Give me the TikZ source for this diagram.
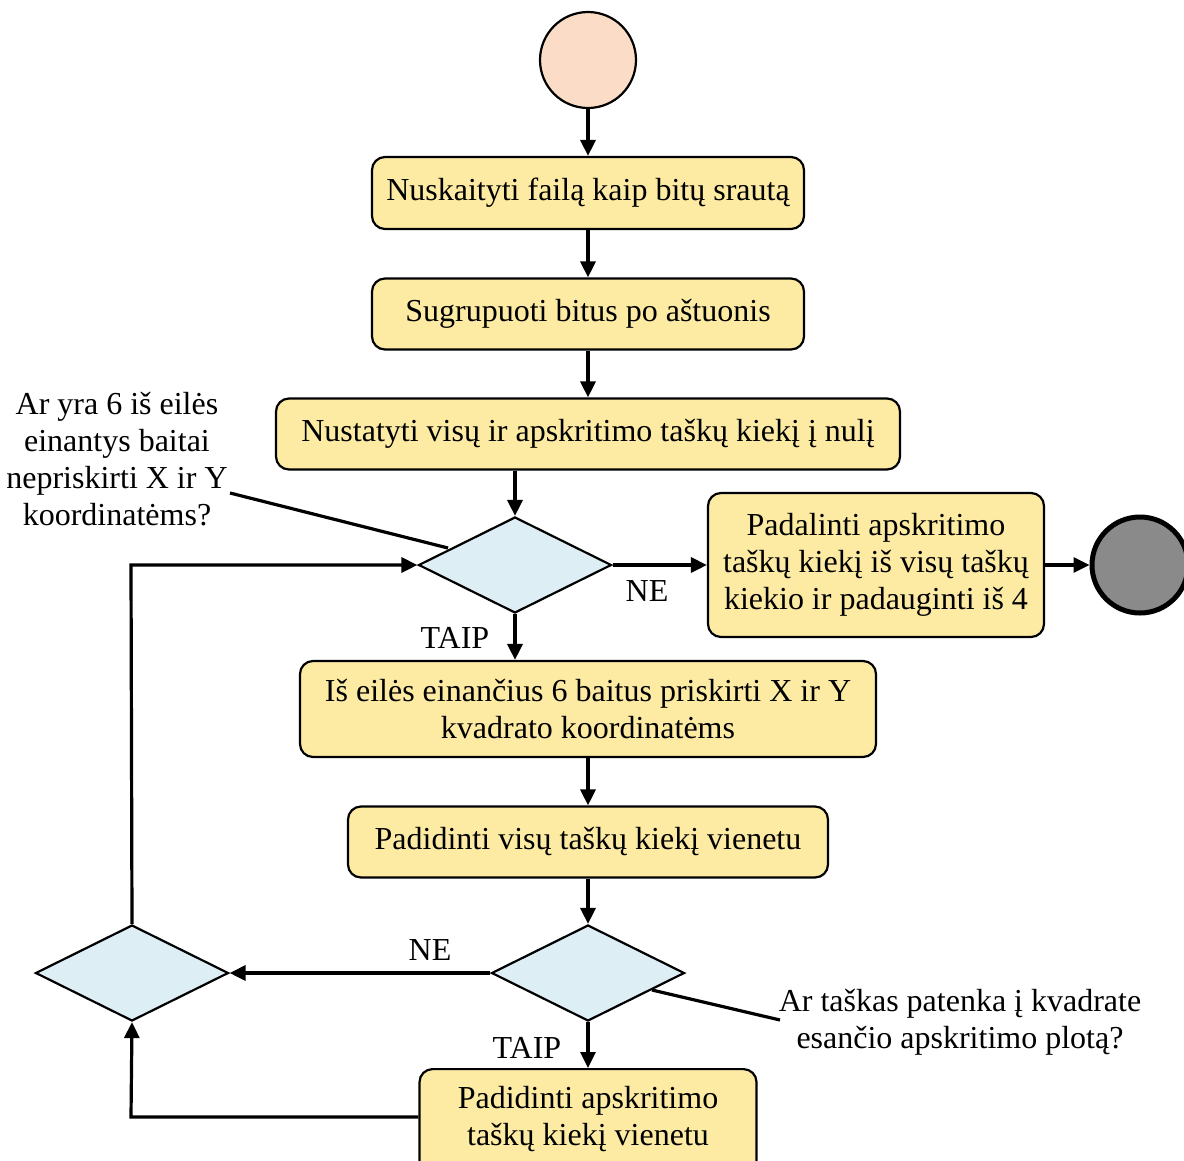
\documentclass[tikz,border=0pt]{standalone}
\usepackage{fontspec}
\setmainfont{Liberation Serif}
\usetikzlibrary{arrows.meta,shapes.geometric}
\definecolor{boxfill}{HTML}{FDEBA3}
\definecolor{decfill}{HTML}{DDEFF5}
\definecolor{startfill}{HTML}{FBDCC6}
\definecolor{endfill}{HTML}{8A8A8A}
\begin{document}
\begin{tikzpicture}[x=1pt,y=-1pt,
  every node/.style={font=\fontsize{32}{36.8}\selectfont},
  action/.style={draw, line width=2.2pt, fill=boxfill, rounded corners=13pt, inner sep=0pt, align=center},
  decision/.style={draw, line width=2.2pt, fill=decfill, diamond, aspect=2, minimum width=193pt, minimum height=96pt, inner sep=0pt},
  flow/.style={line width=3.2pt, -{Triangle[length=16pt,width=15pt]}},
  plain/.style={line width=3.2pt},
  lbl/.style={inner sep=0pt, align=center}]
\useasboundingbox (0,0) rectangle (1184,1160);

% terminals
\node[circle, draw, line width=2.2pt, fill=startfill, minimum size=96pt, inner sep=0pt] (start) at (588,60) {};
\node[circle, draw, line width=5pt, fill=endfill, minimum size=96pt, inner sep=0pt] (stop) at (1140,565) {};

% actions
\node[action, minimum width=432pt, minimum height=72pt] (read) at (588,193) {Nuskaityti failą kaip bitų srautą};
\node[action, minimum width=432pt, minimum height=71pt] (group) at (588,314) {Sugrupuoti bitus po aštuonis};
\node[action, minimum width=624pt, minimum height=71pt] (zero) at (588,434) {Nustatyti visų ir apskritimo taškų kiekį į nulį};
\node[action, minimum width=336pt, minimum height=144pt] (divide) at (876,565) {Padalinti apskritimo\\taškų kiekį iš visų taškų\\kiekio ir padauginti iš 4};
\node[action, minimum width=576pt, minimum height=96pt] (assign) at (588,709) {Iš eilės einančius 6 baitus priskirti X ir Y\\kvadrato koordinatėms};
\node[action, minimum width=480pt, minimum height=71pt] (incall) at (588,842) {Padidinti visų taškų kiekį vienetu};
\node[action, minimum width=337pt, minimum height=110pt, anchor=north] (inccirc) at (588,1068) {};
\node[lbl] at (588,1119) {Padidinti apskritimo\\taškų kiekį vienetu};

% decisions
\node[decision] (more) at (515,565) {};
\node[decision] (inside) at (588,973) {};
\node[decision] (merge) at (132,973) {};

% connectors
\draw[flow] (start) -- (read);
\draw[flow] (read) -- (group);
\draw[flow] (group) -- (zero);
\draw[flow] (zero.south -| more.north) -- (more.north);
\draw[flow] (more.east) -- (divide.west);
\draw[flow] (divide.east) -- (stop.west);
\draw[flow] (more.south) -- (more.south |- assign.north);
\draw[flow] (assign) -- (incall);
\draw[flow] (incall) -- (inside);
\draw[flow] (inside.west) -- (merge.east);
\draw[flow] (inside.south) -- (inccirc.north);
\coordinate (lowcorner) at (131,1117);
\draw[flow] (inccirc.west |- lowcorner) -- (lowcorner) -- (merge.south);
\coordinate (upcorner) at (131,565);
\draw[flow] (merge.north) -- (upcorner) -- (more.west);

% branch labels
\node[lbl] at (647,591) {NE};
\node[lbl] at (455,638) {TAIP};
\node[lbl] at (430,950) {NE};
\node[lbl] at (527,1048) {TAIP};

% annotations
\node[lbl] (q1) at (117,459) {Ar yra 6 iš eilės\\einantys baitai\\nepriskirti X ir Y\\koordinatėms?};
\coordinate (q1a) at (230,493);
\coordinate (q1b) at (448,548);
\draw[plain] (q1a) -- (q1b);
\node[lbl] (q2) at (960,1022) {Ar taškas patenka į kvadrate\\esančio apskritimo plotą?};
\coordinate (q2a) at (780,1020);
\coordinate (q2b) at (652,990);
\draw[plain] (q2a) -- (q2b);
\end{tikzpicture}
\end{document}
